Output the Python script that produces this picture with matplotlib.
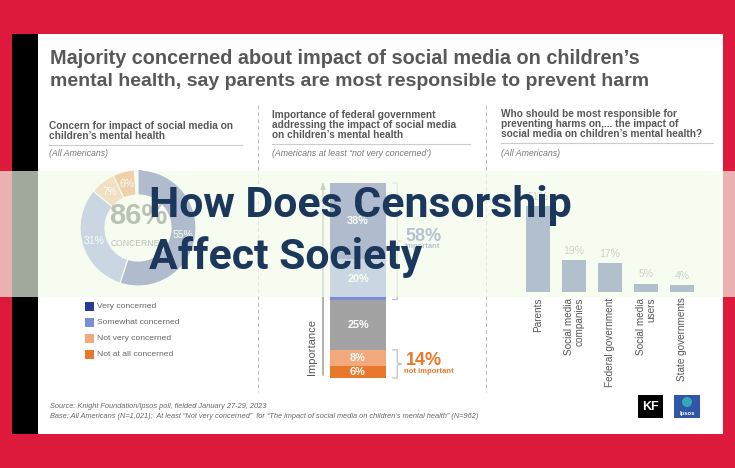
import matplotlib
matplotlib.use('Agg')
import matplotlib.pyplot as plt
from matplotlib.patches import Rectangle, Ellipse
import matplotlib.transforms as mtransforms

W, H = 735, 468

# ---------------- data ----------------
concern_labels = ['Very concerned', 'Somewhat concerned', 'Not very concerned', 'Not at all concerned']
concern_values = [55, 31, 7, 6]
concern_colors = ['#2B3A96', '#7A8ED6', '#F2AA7C', '#E8782A']

importance_values = [38, 20, 25, 8, 6]          # top to bottom
importance_colors = ['#2B3A96', '#7A8ED6', '#A3A3A3', '#F2AA7C', '#E8782A']

resp_categories = ['Parents', 'Social media\ncompanies', 'Federal government',
                   'Social media\nusers', 'State governments']
resp_values = [51, 19, 17, 5, 4]

GRAY = '#585858'
FONT = 'Liberation Sans'


def box(x, y, w, h):
    return [x / W, 1 - (y + h) / H, w / W, h / H]


fig = plt.figure(figsize=(W / 100, H / 100), dpi=100)
fig.patch.set_facecolor('#DD1A3C')

# ---------------- background panel ----------------
ax0 = fig.add_axes([0, 0, 1, 1])
ax0.set_xlim(0, W)
ax0.set_ylim(H, 0)
ax0.axis('off')
ax0.add_patch(Rectangle((12, 34), 711, 400, fc='white', ec='none'))
ax0.add_patch(Rectangle((12, 34), 26, 400, fc='black', ec='none'))

ax0.text(50, 58, "Majority concerned about impact of social media on children\u2019s",
         fontsize=14.3, fontweight='bold', color=GRAY, family=FONT, va='center')
ax0.text(50, 81, "mental health, say parents are most responsible to prevent harm",
         fontsize=14.0, fontweight='bold', color=GRAY, family=FONT, va='center')

# column headers
hdr = dict(fontsize=7.3, fontweight='bold', color=GRAY, family=FONT, va='center', linespacing=1.0)
sub = dict(fontsize=6.3, style='italic', color='#777777', family=FONT, va='center')
ax0.text(49, 131, "Concern for impact of social media on\nchildren\u2019s mental health", **hdr)
ax0.plot([49, 242], [145, 145], color='#CCCCCC', lw=0.8)
ax0.text(49, 154, "(All Americans)", **sub)

ax0.text(272, 125, "Importance of federal government\naddressing the impact of social media\non children\u2019s mental health", **hdr)
ax0.plot([272, 470], [144, 144], color='#CCCCCC', lw=0.8)
ax0.text(272, 153, "(Americans at least \u201cnot very concerned\u2019)", **sub)

ax0.text(501, 124, "Who should be most responsible for\npreventing harms on,... the impact of\nsocial media on children\u2019s mental health?", **hdr)
ax0.plot([501, 713], [143, 143], color='#CCCCCC', lw=0.8)
ax0.text(501, 153, "(All Americans)", **sub)

# dashed separators
for xs in (258, 486):
    ax0.plot([xs, xs], [105, 392], color='#BBBBBB', lw=0.7, ls=(0, (4, 3)))

# legend
for i, (lab, col) in enumerate(zip(concern_labels, concern_colors)):
    yy = 306 + i * 16.3
    ax0.add_patch(Rectangle((85, yy - 4.5), 9, 9, fc=col, ec='none'))
    ax0.text(97, yy, lab, fontsize=6.1, color='#666666', family=FONT, va='center')

# footer
ax0.text(50, 407, "Source: Knight Foundation/Ipsos poll, fielded January 27-29, 2023",
         fontsize=5.3, style='italic', color='#666666', family=FONT, va='center')
ax0.text(50, 416, "Base: All Americans (N=1,021);  At least \u201cNot very concerned\u201d  for \u201cThe impact of social media on children\u2019s mental health\u201d (N=962)",
         fontsize=5.3, style='italic', color='#666666', family=FONT, va='center')

# logos
ax0.add_patch(Rectangle((638, 395), 25, 23, fc='black', ec='none'))
ax0.text(650.5, 406.5, "KF", color='white', fontsize=9, fontweight='bold', family=FONT,
         ha='center', va='center')
ax0.add_patch(Rectangle((674, 395), 26, 23, fc='#2F57A6', ec='none'))
ax0.add_patch(Ellipse((687, 402), 10, 10, fc='#35A8B5', ec='none'))
ax0.text(687, 413, "Ipsos", color='white', fontsize=4.2, fontweight='bold', family=FONT,
         ha='center', va='center')

# ---------------- donut ----------------
ax_d = fig.add_axes(box(80, 170, 116, 116))
fr = [v / 100 for v in concern_values]
wedges, _, autot = ax_d.pie(fr, colors=concern_colors, startangle=90, counterclock=False,
                            normalize=False, autopct='%.0f%%', pctdistance=0.785,
                            wedgeprops=dict(width=0.43, edgecolor='white', linewidth=0.8),
                            textprops=dict(color='white', fontsize=7.5, family=FONT))
ax_d.set_xlim(-1, 1)
ax_d.set_ylim(-1, 1)
ax_d.text(0, 0.2, f"{concern_values[0] + concern_values[1]}%", ha='center', va='center',
          fontsize=21, fontweight='bold', color='#4A4A4A', family=FONT)
ax_d.text(0, -0.26, "CONCERNED", ha='center', va='center', fontsize=6.2,
          color='#4A4A4A', family=FONT)

# ---------------- stacked bar ----------------
ax_s = fig.add_axes(box(330, 183, 56, 195))
total = sum(importance_values)
bottom = 0
for v, c in zip(reversed(importance_values), reversed(importance_colors)):
    ax_s.bar([0], [v], bottom=bottom, width=1, color=c, edgecolor='none')
    ax_s.text(0, bottom + v / 2, f"{v}%", ha='center', va='center', color='white',
              fontsize=7.8, fontweight='bold', family=FONT)
    bottom += v
ax_s.set_xlim(-0.5, 0.5)
ax_s.set_ylim(0, total)
ax_s.axis('off')

tr = mtransforms.blended_transform_factory(ax_s.transAxes, ax_s.transData)
# axis arrow
ax_s.annotate('', xy=(-0.125, total + 1.8), xytext=(-0.125, 0), xycoords=tr, textcoords=tr,
              arrowprops=dict(arrowstyle='-|>,head_width=0.15,head_length=0.4', color='#777777', lw=0.8),
              annotation_clip=False)
ax_s.text(-0.33, 15.5, "Importance", transform=tr, rotation=90, ha='center', va='center',
          fontsize=8, color=GRAY, family=FONT)

important = importance_values[0] + importance_values[1]
not_important = importance_values[-1] + importance_values[-2]


def brace(y0, y1):
    xb, xt = 1.12, 1.2
    ym = (y0 + y1) / 2
    ax_s.plot([xb, xt, xt, xt + 0.08, xt, xt, xb], [y1, y1, ym + 0.6, ym, ym - 0.6, y0, y0],
              transform=tr, color='#BBBBBB', lw=0.8, clip_on=False)


brace(total - important, total)
brace(0, not_important)
ax_s.text(1.35, total - important / 2 + 2.5, f"{important}%", transform=tr, ha='left', va='center',
          fontsize=13, fontweight='bold', color='#3A4C98', family=FONT)
ax_s.text(1.33, total - important / 2 - 2.8, "important", transform=tr, ha='left', va='center',
          fontsize=5.5, fontweight='bold', color='#3A4C98', family=FONT)
ax_s.text(1.35, not_important / 2 + 1.5, f"{not_important}%", transform=tr, ha='left', va='center',
          fontsize=13, fontweight='bold', color='#E8782A', family=FONT)
ax_s.text(1.33, not_important / 2 - 3.6, "not important", transform=tr, ha='left', va='center',
          fontsize=5.5, fontweight='bold', color='#E8782A', family=FONT)

# ---------------- responsibility bars ----------------
pxu = 1.686
ax_b = fig.add_axes(box(520, 292 - pxu * 55, 180, pxu * 55))
xs = list(range(len(resp_values)))
ax_b.bar(xs, resp_values, width=0.667, color='#2F4890', edgecolor='none')
for x, v in zip(xs, resp_values):
    ax_b.text(x, v + 2.5, f"{v}%", ha='center', va='bottom', fontsize=7.5,
              color='#7A7A7A', family=FONT)
ax_b.set_xlim(-0.5, len(resp_values) - 0.5)
ax_b.set_ylim(0, 55)
ax_b.axis('off')
trb = mtransforms.blended_transform_factory(ax_b.transData, ax_b.transAxes)
for x, lab in zip(xs, resp_categories):
    ax_b.text(x, -0.06, lab, transform=trb, rotation=90, ha='center', va='top',
              multialignment='right', fontsize=7.2, color=GRAY, family=FONT, linespacing=1.05)

# ---------------- overlay band ----------------
ax_t = fig.add_axes([0, 0, 1, 1])
ax_t.set_zorder(10)
ax_t.set_xlim(0, W)
ax_t.set_ylim(H, 0)
ax_t.axis('off')
ax_t.add_patch(Rectangle((0, 171), W, 126, fc=(242 / 255, 252 / 255, 234 / 255), alpha=0.67, ec='none'))
ax_t.text(149, 205, "How Does Censorship", fontsize=30.8, fontweight='bold', color='#1B385C',
          family='Roboto', va='center')
ax_t.text(149, 257, "Affect Society", fontsize=30.8, fontweight='bold', color='#1B385C',
          family='Roboto', va='center')

fig.savefig('out.png', dpi=100, facecolor=fig.get_facecolor())
